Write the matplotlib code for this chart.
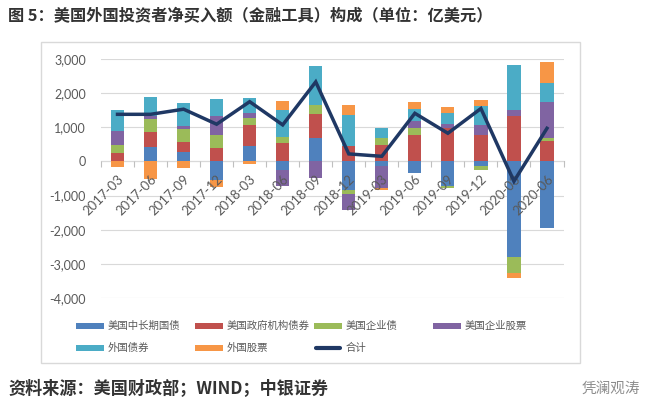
import matplotlib
matplotlib.use("Agg")
import matplotlib.pyplot as plt
import numpy as np
from matplotlib.patches import Rectangle
from matplotlib.lines import Line2D
from matplotlib.ticker import FuncFormatter, MultipleLocator, FixedLocator

plt.rcParams['font.family'] = ['Noto Sans CJK SC', 'DejaVu Sans']

quarters = ["2017-03", "2017-06", "2017-09", "2017-12", "2018-03", "2018-06", "2018-09",
            "2018-12", "2019-03", "2019-06", "2019-09", "2019-12", "2020-03", "2020-06"]

series_names = ["美国中长期国债", "美国政府机构债券", "美国企业债", "美国企业股票", "外国债券", "外国股票"]
treasury = [0, 420, 290, -550, 460, -260, 700, -845, -140, -330, -720, -140, -2790, -1950]
agency = [260, 440, 280, 380, 610, 540, 690, 440, 490, 760, 970, 760, 1330, 600]
corp_bond = [210, 390, 380, 380, 210, 180, 270, -115, 190, 210, -70, -120, -475, 80]
corp_stock = [420, 90, 90, 560, 130, -470, -490, -465, -640, 220, 120, 310, 190, 1050]
foreign_bond = [630, 540, 680, 510, 440, 800, 1130, 910, 300, 360, 320, 550, 1310, 570]
foreign_stock = [-150, -510, -190, -200, -80, 260, 0, 290, -50, 190, 190, 190, -155, 610]
total_name = "合计"
total = [1380, 1380, 1530, 1090, 1750, 1070, 2330, 220, 150, 1410, 825, 1550, -580, 970]

colors = ["#4F81BD", "#C0504D", "#9BBB59", "#8064A2", "#4BACC6", "#F79646"]
line_color = "#1F3864"

W, H = 647, 409
fig = plt.figure(figsize=(W / 100, H / 100), dpi=100)
fig.patch.set_facecolor("white")

def fx(px):
    return px / W

def fy(py):
    return 1 - py / H

# chart border box
fig.add_artist(Rectangle((fx(41), fy(363)), fx(580) - fx(41), fy(42) - fy(363),
                         transform=fig.transFigure, fill=False, edgecolor="#D9D9D9", lw=1.0))

ax = fig.add_axes([fx(101), fy(298), fx(563.5) - fx(101), fy(59) - fy(298)])
x = np.arange(len(quarters))
all_series = [treasury, agency, corp_bond, corp_stock, foreign_bond, foreign_stock]
pos_base = np.zeros(len(quarters))
neg_base = np.zeros(len(quarters))
for vals, c in zip(all_series, colors):
    v = np.array(vals, dtype=float)
    pos = np.where(v > 0, v, 0)
    neg = np.where(v < 0, v, 0)
    ax.bar(x, pos, bottom=pos_base, width=0.4, color=c, zorder=2, linewidth=0)
    ax.bar(x, neg, bottom=neg_base, width=0.4, color=c, zorder=2, linewidth=0)
    pos_base += pos
    neg_base += neg

ax.plot(x, total, color=line_color, lw=2.5, zorder=4, solid_joinstyle='miter')

ax.set_xlim(-0.5, 13.5)
ax.set_ylim(-4000, 3000)
ax.yaxis.set_major_locator(MultipleLocator(1000))
ax.yaxis.set_major_formatter(FuncFormatter(lambda v, p: f"{int(v):,}"))
ax.grid(axis='y', color="#D9D9D9", lw=0.8, zorder=0)
for s in ["top", "right", "left"]:
    ax.spines[s].set_visible(False)
ax.spines["bottom"].set_position(("data", 0))
ax.spines["bottom"].set_color("#BFBFBF")
ax.spines["bottom"].set_linewidth(0.8)
ax.spines["bottom"].set_zorder(1)
ax.xaxis.set_zorder(3)
ax.tick_params(axis='y', length=0, pad=11, labelsize=9, labelcolor="#595959")
for lab in ax.get_yticklabels():
    lab.set_fontfamily(['Lato', 'DejaVu Sans'])
ax.set_xticks(x)
ax.set_xticklabels(quarters, rotation=45, ha='right', va='top', rotation_mode='anchor',
                   fontsize=9.5, color="#595959", fontfamily=['Lato', 'DejaVu Sans'])
ax.tick_params(axis='x', which='major', length=0, pad=8)
ax.xaxis.set_minor_locator(FixedLocator(np.arange(-0.5, 14, 1)))
ax.tick_params(axis='x', which='minor', length=4, color="#BFBFBF", width=0.8)

# legend (manual layout)
leg_items = [(series_names[0], colors[0], 76, 326), (series_names[1], colors[1], 195, 326),
             (series_names[2], colors[2], 314, 326), (series_names[3], colors[3], 433, 326),
             (series_names[4], colors[4], 76, 348), (series_names[5], colors[5], 195, 348)]
for name, c, px, py in leg_items:
    fig.add_artist(Rectangle((fx(px), fy(py + 3)), fx(28), 6 / H, transform=fig.transFigure,
                             color=c, lw=0))
    fig.text(fx(px + 32), fy(py), name, fontsize=7.5, color="#595959", va='center', ha='left')
fig.add_artist(Line2D([fx(316), fx(340)], [fy(348), fy(348)], transform=fig.transFigure,
                      color=line_color, lw=3, solid_capstyle='round'))
fig.text(fx(346), fy(348), total_name, fontsize=7.5, color="#595959", va='center', ha='left')

fig.text(fx(8), fy(16), "图 5：美国外国投资者净买入额（金融工具）构成（单位：亿美元）",
         fontsize=11.7, fontweight='bold', color="#333333", va='center', ha='left')
fig.text(fx(8), fy(389), "资料来源：美国财政部；WIND；中银证券",
         fontsize=12.3, fontweight='bold', color="#333333", va='center', ha='left')
fig.text(fx(640), fy(389), "凭澜观涛", fontsize=10.5, color="#8C8C8C", va='center', ha='right')

fig.savefig("out.png", dpi=100)
